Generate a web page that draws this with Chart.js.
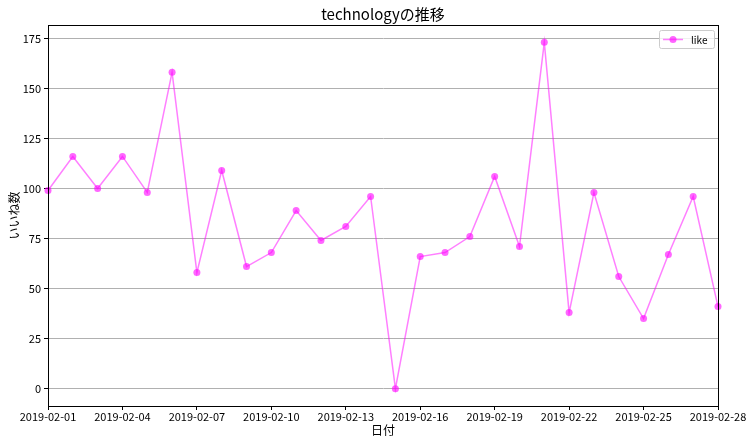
<!DOCTYPE html>
<html>
<head>
<meta charset="utf-8">
<script src="https://cdn.jsdelivr.net/npm/chart.js@4"></script>
<style>
  html, body { margin: 0; padding: 0; background: #fff; }
  #wrap { width: 753px; height: 444px; }
</style>
</head>
<body>
<div id="wrap"><canvas id="chart" width="753" height="444"></canvas></div>
<script>
// ============================================================
// Data
// ============================================================

const dates = [
  '2019-02-01', '2019-02-02', '2019-02-03', '2019-02-04', '2019-02-05', '2019-02-06', '2019-02-07',
  '2019-02-08', '2019-02-09', '2019-02-10', '2019-02-11', '2019-02-12', '2019-02-13', '2019-02-14',
  '2019-02-15', '2019-02-16', '2019-02-17', '2019-02-18', '2019-02-19', '2019-02-20', '2019-02-21',
  '2019-02-22', '2019-02-23', '2019-02-24', '2019-02-25', '2019-02-26', '2019-02-27', '2019-02-28'
];
const likes = [
  99, 116, 100, 116, 98, 158, 58,
  109, 61, 68, 89, 74, 81, 96,
  0, 66, 68, 76, 106, 71, 173,
  38, 98, 56, 35, 67, 96, 41
];
const yTicks = [0, 25, 50, 75, 100, 125, 150, 175];

const FONT = '"Noto Sans CJK JP", "DejaVu Sans", sans-serif';
const LINE = 'rgba(255, 0, 255, 0.5)';
const MARK = 'rgba(255, 0, 255, 0.6)';

// ============================================================
// Plugins: frame, title, legend inside the plot
// ============================================================

const framePlugin = {
  id: 'frame',
  afterDraw(chart) {
    const { ctx, chartArea: a } = chart;
    ctx.save();
    ctx.strokeStyle = '#000';
    ctx.lineWidth = 1;
    ctx.strokeRect(Math.round(a.left) + 0.5, Math.round(a.top) + 0.5,
      Math.round(a.right - a.left), Math.round(a.bottom - a.top));
    ctx.restore();
  }
};

const titlePlugin = {
  id: 'mplTitle',
  afterDraw(chart) {
    const { ctx, chartArea: a } = chart;
    ctx.save();
    ctx.fillStyle = '#000';
    ctx.font = '15px ' + FONT;
    ctx.textAlign = 'center';
    ctx.textBaseline = 'middle';
    ctx.fillText('technologyの推移', (a.left + a.right) / 2, 14);
    ctx.restore();
  }
};

const legendPlugin = {
  id: 'insideLegend',
  afterDraw(chart) {
    const { ctx, chartArea: a } = chart;
    const label = chart.data.datasets[0].label;
    const w = 55, h = 18;
    const x = a.right - w - 4, y = a.top + 5;
    ctx.save();
    ctx.fillStyle = 'rgba(255,255,255,0.8)';
    ctx.strokeStyle = '#ccc';
    ctx.lineWidth = 1;
    ctx.beginPath();
    ctx.roundRect(x + 0.5, y + 0.5, w, h, 2);
    ctx.fill();
    ctx.stroke();
    ctx.strokeStyle = LINE;
    ctx.lineWidth = 1.5;
    ctx.beginPath();
    ctx.moveTo(x + 4, y + 9.5);
    ctx.lineTo(x + 24, y + 9.5);
    ctx.stroke();
    ctx.fillStyle = MARK;
    ctx.beginPath();
    ctx.arc(x + 14, y + 9.5, 3.5, 0, Math.PI * 2);
    ctx.fill();
    ctx.fillStyle = '#000';
    ctx.font = '10px ' + FONT;
    ctx.textBaseline = 'middle';
    ctx.fillText(label, x + 32, y + 10);
    ctx.restore();
  }
};

// ============================================================
// Chart
// ============================================================

function init() {
  const yMin = Math.min(...likes), yMax = Math.max(...likes);
  const pad = (yMax - yMin) * 0.05;

  new Chart(document.getElementById('chart'), {
    type: 'line',
    data: {
      datasets: [{
        label: 'like',
        data: likes.map((v, i) => ({ x: i, y: v })),
        borderColor: LINE,
        borderWidth: 1.5,
        pointBackgroundColor: MARK,
        pointBorderColor: MARK,
        pointBorderWidth: 0,
        pointRadius: 3.5,
        tension: 0,
        clip: false
      }]
    },
    options: {
      responsive: false,
      animation: false,
      layout: { padding: { top: 25, right: 35, left: 0, bottom: 0 } },
      plugins: { legend: { display: false }, title: { display: false }, tooltip: { enabled: false } },
      scales: {
        x: {
          type: 'linear',
          min: 0,
          max: dates.length - 1,
          afterFit(s) { s.height = 38; },
          afterBuildTicks(s) {
            s.ticks = [];
            for (let i = 0; i < dates.length; i += 3) s.ticks.push({ value: i });
          },
          ticks: {
            autoSkip: false,
            maxRotation: 0,
            color: '#000',
            font: { family: FONT, size: 11 },
            padding: 0,
            callback: v => dates[v]
          },
          grid: { drawOnChartArea: false, tickLength: 4, tickColor: '#000' },
          border: { color: '#000' },
          title: {
            display: true, text: '日付', color: '#000',
            font: { family: FONT, size: 12 }, padding: { top: 0, bottom: 6 }
          }
        },
        y: {
          min: yMin - pad,
          max: yMax + pad,
          afterFit(s) { s.width = 48; },
          afterBuildTicks(s) { s.ticks = yTicks.map(v => ({ value: v })); },
          ticks: {
            color: '#000',
            font: { family: FONT, size: 11 },
            padding: 3
          },
          grid: { color: '#b0b0b0', lineWidth: 1, tickLength: 4, tickColor: '#000' },
          border: { color: '#000' },
          title: {
            display: true, text: 'いいね数', color: '#000',
            font: { family: FONT, size: 12 }, padding: { top: 7, bottom: 0 }
          }
        }
      }
    },
    plugins: [framePlugin, titlePlugin, legendPlugin]
  });
}

document.addEventListener('DOMContentLoaded', init);
</script>
</body>
</html>
